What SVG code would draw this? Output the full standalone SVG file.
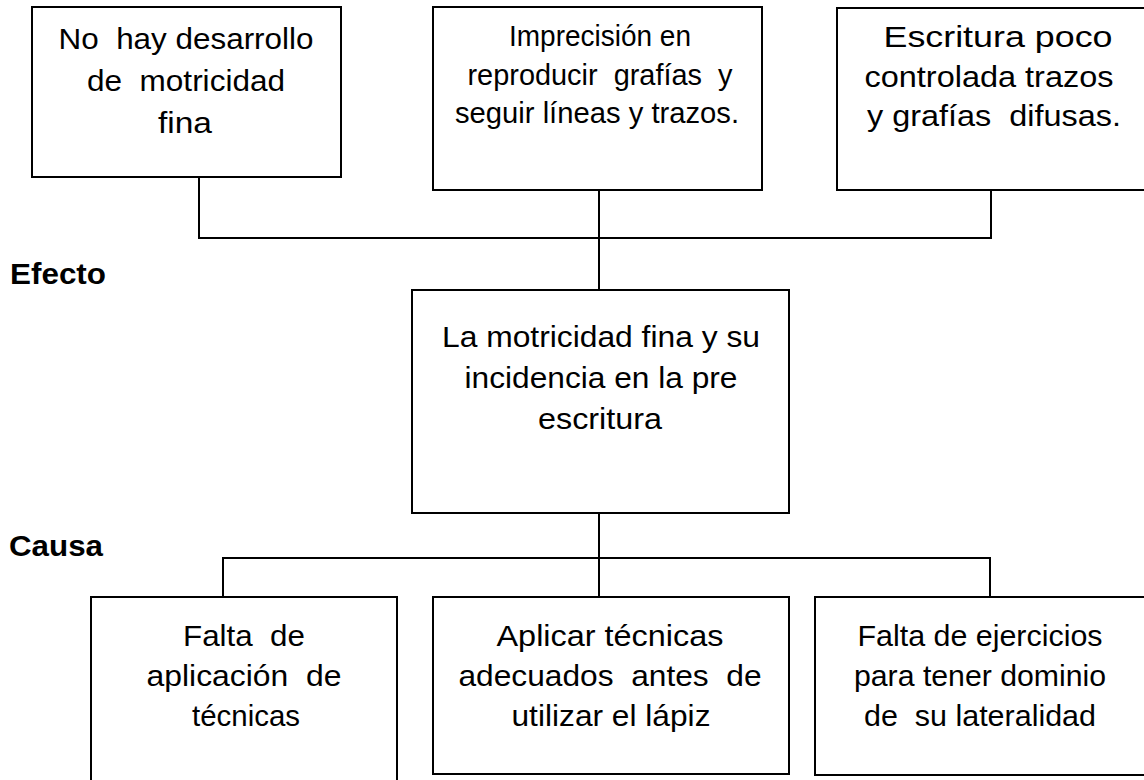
<svg xmlns="http://www.w3.org/2000/svg" width="1144" height="780" viewBox="0 0 1144 780">
<style>
.box{fill:#fff;stroke:#000;stroke-width:2}
.t{font-family:"Liberation Sans",Arial,sans-serif;font-size:30px;fill:#000;text-anchor:middle;white-space:pre}
.lbl{font-family:"Liberation Sans",Arial,sans-serif;font-size:29px;font-weight:bold;fill:#000}
.c{fill:none;stroke:#000;stroke-width:2}
</style>
<rect width="1144" height="780" fill="#fff"/>
<g id="connectors">
<polyline class="c" points="199,177 199,238 991,238 991,190"/>
<line class="c" x1="599" y1="190" x2="599" y2="290"/>
<line class="c" x1="599" y1="513" x2="599" y2="597"/>
<polyline class="c" points="223,597 223,558 990,558 990,597"/>
</g>
<g id="label-efecto"><text class="lbl" x="10" y="284" textLength="96" lengthAdjust="spacingAndGlyphs">Efecto</text></g>
<g id="label-causa"><text class="lbl" x="9" y="556" textLength="94" lengthAdjust="spacingAndGlyphs">Causa</text></g>
<g id="effect1">
<rect class="box" x="32" y="7" width="309" height="170"/>
<text class="t" x="186" y="49" textLength="255" lengthAdjust="spacingAndGlyphs" xml:space="preserve">No  hay desarrollo</text>
<text class="t" x="186" y="91" textLength="198" lengthAdjust="spacingAndGlyphs" xml:space="preserve">de  motricidad</text>
<text class="t" x="185" y="133" textLength="54" lengthAdjust="spacingAndGlyphs">fina</text>
</g>
<g id="effect2">
<rect class="box" x="433" y="7" width="329" height="183"/>
<text class="t" x="600" y="46" font-size="27" textLength="182" lengthAdjust="spacingAndGlyphs">Imprecisión en</text>
<text class="t" x="600" y="85" font-size="27" textLength="265" lengthAdjust="spacingAndGlyphs" xml:space="preserve">reproducir  grafías  y</text>
<text class="t" x="597" y="123" font-size="27" textLength="284" lengthAdjust="spacingAndGlyphs">seguir líneas y trazos.</text>
</g>
<g id="effect3">
<rect class="box" x="837" y="8" width="316" height="182"/>
<text class="t" x="998" y="47" textLength="229" lengthAdjust="spacingAndGlyphs">Escritura poco</text>
<text class="t" x="989" y="87" textLength="249" lengthAdjust="spacingAndGlyphs">controlada trazos</text>
<text class="t" x="994" y="126" textLength="254" lengthAdjust="spacingAndGlyphs" xml:space="preserve">y grafías  difusas.</text>
</g>
<g id="problem">
<rect class="box" x="412" y="290" width="377" height="223"/>
<text class="t" x="601" y="347" textLength="318" lengthAdjust="spacingAndGlyphs">La motricidad fina y su</text>
<text class="t" x="601" y="388" textLength="273" lengthAdjust="spacingAndGlyphs">incidencia en la pre</text>
<text class="t" x="600" y="429" textLength="124" lengthAdjust="spacingAndGlyphs">escritura</text>
</g>
<g id="cause1">
<rect class="box" x="91" y="597" width="306" height="200"/>
<text class="t" x="244" y="646" textLength="122" lengthAdjust="spacingAndGlyphs" xml:space="preserve">Falta  de</text>
<text class="t" x="244" y="686" textLength="195" lengthAdjust="spacingAndGlyphs" xml:space="preserve">aplicación  de</text>
<text class="t" x="246" y="726" textLength="108" lengthAdjust="spacingAndGlyphs">técnicas</text>
</g>
<g id="cause2">
<rect class="box" x="433" y="597" width="356" height="177"/>
<text class="t" x="610" y="646" textLength="227" lengthAdjust="spacingAndGlyphs">Aplicar técnicas</text>
<text class="t" x="610" y="686" textLength="303" lengthAdjust="spacingAndGlyphs" xml:space="preserve">adecuados  antes  de</text>
<text class="t" x="611" y="726" textLength="199" lengthAdjust="spacingAndGlyphs">utilizar el lápiz</text>
</g>
<g id="cause3">
<rect class="box" x="815" y="597" width="332" height="178"/>
<text class="t" x="980" y="646" textLength="245" lengthAdjust="spacingAndGlyphs">Falta de ejercicios</text>
<text class="t" x="980" y="686" textLength="252" lengthAdjust="spacingAndGlyphs">para tener dominio</text>
<text class="t" x="980" y="726" textLength="232" lengthAdjust="spacingAndGlyphs" xml:space="preserve">de  su lateralidad</text>
</g>
</svg>
